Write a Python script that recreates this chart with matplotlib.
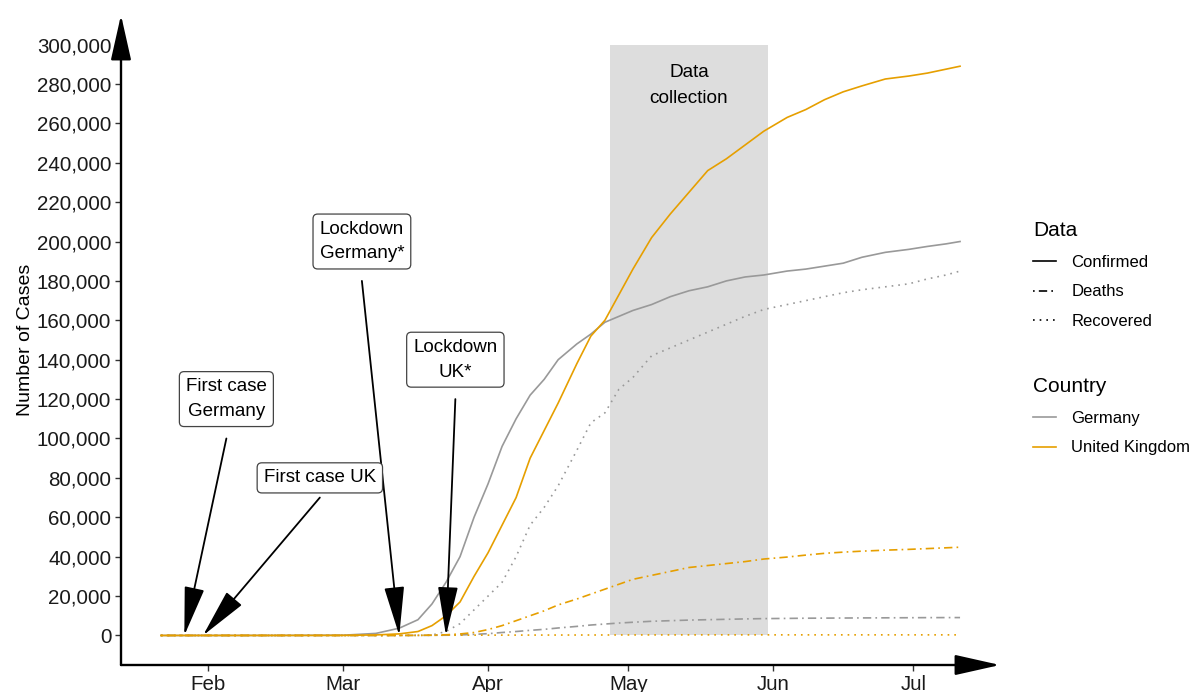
import pandas as pd
import matplotlib
matplotlib.use("Agg")
import matplotlib.pyplot as plt
import matplotlib.dates as mdates
from matplotlib.lines import Line2D
from matplotlib.ticker import FuncFormatter

plt.rcParams["font.family"] = ["Liberation Sans", "DejaVu Sans"]
plt.rcParams["font.size"] = 14

# values (cumulative counts)
dates = [
    "2020-01-22", "2020-01-27", "2020-01-31", "2020-02-15", "2020-03-01",
    "2020-03-08", "2020-03-13", "2020-03-17", "2020-03-20", "2020-03-23",
    "2020-03-26", "2020-03-29", "2020-04-01", "2020-04-04", "2020-04-07",
    "2020-04-10", "2020-04-13", "2020-04-16", "2020-04-20", "2020-04-23",
    "2020-04-26", "2020-04-29", "2020-05-02", "2020-05-06", "2020-05-10",
    "2020-05-14", "2020-05-18", "2020-05-22", "2020-05-26", "2020-05-30",
    "2020-06-04", "2020-06-08", "2020-06-12", "2020-06-16", "2020-06-20",
    "2020-06-25", "2020-06-30", "2020-07-04", "2020-07-08", "2020-07-11",
]
germany_confirmed = [
    0, 1, 5, 16, 130, 1040, 3700, 8000, 16000, 27000,
    40000, 60000, 77000, 96000, 110000, 122000, 130000, 140000, 148000, 153000,
    159000, 162000, 165000, 168000, 172000, 175000, 177000, 180000, 182000, 183000,
    185000, 186000, 187500, 189000, 192000, 194500, 196000, 197500, 198800, 200000,
]
germany_deaths = [
    0, 0, 0, 0, 0, 0, 7, 20, 70, 120,
    250, 560, 900, 1500, 2000, 2600, 3100, 3800, 4600, 5300,
    5800, 6300, 6700, 7200, 7500, 7800, 8000, 8200, 8400, 8550,
    8650, 8750, 8800, 8850, 8900, 8950, 9000, 9050, 9070, 9080,
]
germany_recovered = [
    0, 0, 0, 1, 16, 18, 46, 70, 200, 2000,
    6000, 13000, 20000, 27000, 40000, 56000, 65000, 76000, 94000, 108000,
    113000, 125000, 131000, 142000, 146000, 150000, 154000, 158000, 162000, 165500,
    168000, 170000, 172000, 174000, 175500, 177000, 178500, 181000, 183000, 185000,
]
uk_confirmed = [
    0, 0, 2, 9, 36, 270, 800, 2000, 5000, 10000,
    17000, 30000, 42000, 56000, 70000, 90000, 104000, 118000, 138000, 152000,
    160000, 173000, 186000, 202000, 214000, 225000, 236000, 242000, 249000, 256000,
    263000, 267000, 272000, 276000, 279000, 282500, 284000, 285500, 287500, 289000,
]
uk_deaths = [
    0, 0, 0, 0, 0, 2, 8, 70, 180, 340,
    760, 1500, 3000, 5000, 7500, 10000, 12500, 15500, 18500, 21000,
    23500, 26000, 28500, 30500, 32500, 34500, 35500, 36500, 37500, 38800,
    39800, 40800, 41700, 42300, 42800, 43300, 43700, 44100, 44500, 44800,
]
uk_recovered = [
    0, 0, 0, 0, 8, 18, 18, 20, 65, 140,
    140, 150, 160, 170, 180, 190, 200, 210, 220, 230,
    240, 250, 260, 270, 280, 290, 300, 300, 300, 300,
    300, 300, 300, 300, 300, 300, 300, 300, 300, 300,
]

event_labels = ["First case\nGermany", "First case UK", "Lockdown\nGermany*", "Lockdown\nUK*"]
event_dates = ["2020-01-27", "2020-01-31", "2020-03-13", "2020-03-23"]
label_dates = ["2020-02-05", "2020-02-25", "2020-03-05", "2020-03-25"]
label_values = [120000, 80000, 200000, 140000]
arrow_start_values = [100000, 70000, 180000, 120000]

collection_start = "2020-04-27"
collection_end = "2020-05-31"

GREY = "#999999"
ORANGE = "#E69F00"
DOTDASH = (0, (1, 2.5, 5, 2.5))
DOTTED = (0, (1, 3))

x = pd.to_datetime(dates)

fig = plt.figure(figsize=(11.89, 6.92), dpi=100)
ax = fig.add_axes([121 / 1189, 27 / 692, (1000 - 121) / 1189, (665 - 15) / 692])

# data collection window
ax.axvspan(pd.Timestamp(collection_start), pd.Timestamp(collection_end),
           ymin=(0 + 15000) / 330000, ymax=(300000 + 15000) / 330000,
           color="#dddddd", lw=0, zorder=0)
mid = pd.Timestamp(collection_start) + (pd.Timestamp(collection_end) - pd.Timestamp(collection_start)) / 2
ax.text(mid, 279000, "Data\ncollection", ha="center", va="center",
        fontsize=13.7, linespacing=1.7, zorder=5)

series = [
    (germany_confirmed, GREY, "-"),
    (germany_deaths, GREY, DOTDASH),
    (germany_recovered, GREY, DOTTED),
    (uk_confirmed, ORANGE, "-"),
    (uk_deaths, ORANGE, DOTDASH),
    (uk_recovered, ORANGE, DOTTED),
]
for values, color, ls in series:
    ax.plot(x, values, color=color, linestyle=ls, lw=1.2, zorder=3)

# event annotations
for text, ev, ld, lv, av in zip(event_labels, event_dates, label_dates,
                                label_values, arrow_start_values):
    ax.annotate("", xy=(pd.Timestamp(ev), 0), xytext=(pd.Timestamp(ld), av),
                arrowprops=dict(arrowstyle="-|>,head_length=2.2,head_width=0.45",
                                color="black", lw=1.3, shrinkA=0, shrinkB=0),
                zorder=6)
    ax.text(pd.Timestamp(ld), lv, text, ha="center", va="center",
            fontsize=13.5, linespacing=1.6, zorder=7,
            bbox=dict(boxstyle="round,pad=0.35,rounding_size=0.25",
                      fc="white", ec="#444444", lw=0.9))

# axes
start = pd.Timestamp(dates[0])
end = pd.Timestamp(dates[-1])
pad = (end - start) * 0.05
ax.set_xlim(start - pad, end + pad)
ax.set_ylim(-15000, 315000)
ax.set_yticks(range(0, 300001, 20000))
ax.yaxis.set_major_formatter(FuncFormatter(lambda v, p: f"{int(v):,}"))
ax.xaxis.set_major_locator(mdates.MonthLocator(bymonth=[2, 3, 4, 5, 6, 7]))
ax.xaxis.set_major_formatter(mdates.DateFormatter("%b"))
ax.tick_params(axis="both", length=4, width=1, color="#333333", labelsize=14.8,
               labelcolor="#1a1a1a", pad=3)
ax.set_ylabel("Number of Cases", fontsize=14, labelpad=2)

for side in ["top", "right", "left", "bottom"]:
    ax.spines[side].set_visible(False)
ax.annotate("", xy=(0, 1), xytext=(0, 0), xycoords="axes fraction",
            arrowprops=dict(arrowstyle="-|>,head_length=2.0,head_width=0.45",
                            color="black", lw=1.7, shrinkA=0, shrinkB=0))
ax.annotate("", xy=(1, 0), xytext=(0, 0), xycoords="axes fraction",
            arrowprops=dict(arrowstyle="-|>,head_length=2.0,head_width=0.45",
                            color="black", lw=1.7, shrinkA=0, shrinkB=0))

# legends
data_handles = [
    Line2D([], [], color="black", lw=1.2, linestyle="-"),
    Line2D([], [], color="black", lw=1.2, linestyle=DOTDASH),
    Line2D([], [], color="black", lw=1.2, linestyle=DOTTED),
]
country_handles = [
    Line2D([], [], color=GREY, lw=1.2),
    Line2D([], [], color=ORANGE, lw=1.2),
]
leg_kw = dict(frameon=False, fontsize=12, title_fontsize=15, alignment="left",
              handlelength=1.4, handletextpad=0.9, labelspacing=0.88,
              borderpad=0, borderaxespad=0, loc="upper left")
fig.legend(data_handles, ["Confirmed", "Deaths", "Recovered"], title="Data",
           bbox_to_anchor=(1033 / 1189, 1 - 221 / 692), **leg_kw)
fig.legend(country_handles, ["Germany", "United Kingdom"], title="Country",
           bbox_to_anchor=(1033 / 1189, 1 - 377 / 692), **leg_kw)

fig.savefig("out.png", dpi=100)
